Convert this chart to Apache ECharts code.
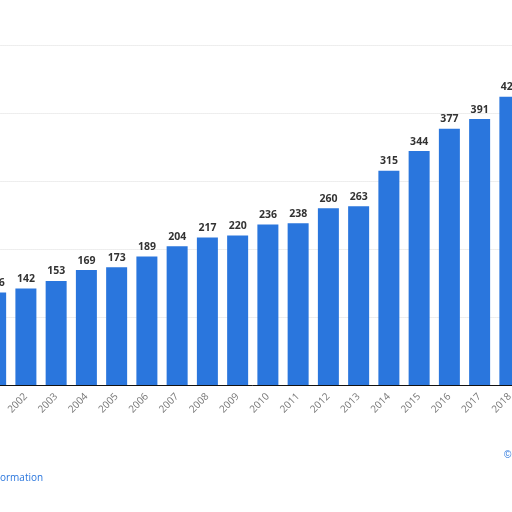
<!DOCTYPE html><html><head><meta charset="utf-8"><script src="https://cdn.jsdelivr.net/npm/echarts@6/dist/echarts.min.js"></script></head><body style="margin:0;overflow:hidden"><div id="c" style="width:551px;height:512px;margin-left:-26px"></div><script>
const categories=['2001','2002','2003','2004','2005','2006','2007','2008','2009','2010','2011','2012','2013','2014','2015','2016','2017','2018'];
const values=[136,142,153,169,173,189,204,217,220,236,238,260,263,315,344,377,391,424];
const ch=echarts.init(document.getElementById('c'));
ch.setOption({animation:false,backgroundColor:'#fff',
grid:{left:0,right:0,top:45,bottom:127},
xAxis:{type:'category',data:categories,axisTick:{show:false},axisLine:{lineStyle:{color:'#111'}},
 axisLabel:{rotate:45,color:'#777',fontSize:10,fontFamily:'Open Sans',margin:10}},
yAxis:{type:'value',min:0,max:500,interval:100,axisLabel:{show:false},axisLine:{show:false},axisTick:{show:false},
 splitLine:{lineStyle:{color:'#ddd',type:'dotted'}}},
series:[{type:'bar',data:values,barWidth:21,itemStyle:{color:'#2a76dd'},
 label:{show:true,position:'top',color:'#333',fontWeight:'bold',fontSize:10.5,fontFamily:'Open Sans',distance:4}}],
graphic:[{type:'text',left:26,top:473,style:{text:'ormation',fill:'#2a76dd',fontSize:10,fontFamily:'Open Sans'}},
{type:'text',left:530,top:450,style:{text:'©',fill:'#2a76dd',fontSize:10}}]});
</script></body></html>
